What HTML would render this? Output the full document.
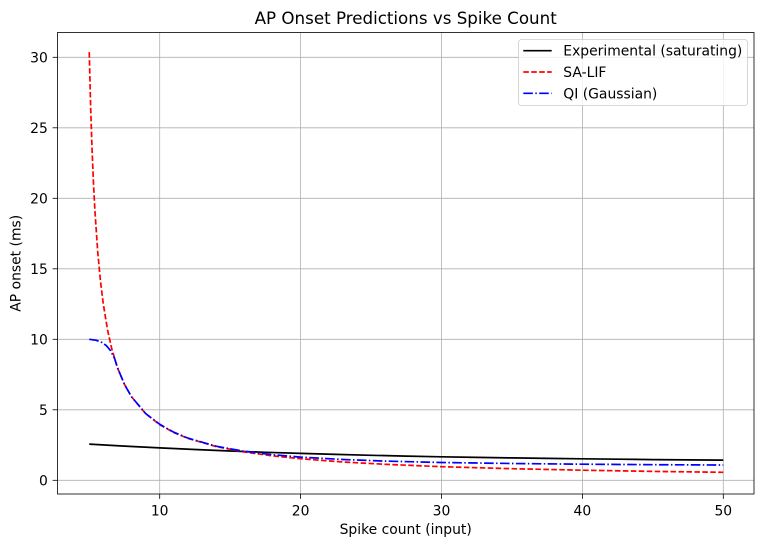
<!DOCTYPE html>
<html>
<head>
<meta charset="utf-8">
<style>
  html, body { margin: 0; padding: 0; background: #ffffff; }
  svg { display: block; }
  text { font-family: "DejaVu Sans", "Liberation Sans", sans-serif; fill: #000; }
</style>
</head>
<body>
<svg width="764" height="547" viewBox="0 0 764 547" xmlns="http://www.w3.org/2000/svg">
  <rect x="0" y="0" width="764" height="547" fill="#ffffff"/>

  <!-- grid -->
  <g stroke="#b0b0b0" stroke-width="0.8" fill="none">
    <line x1="159.7" y1="32.5" x2="159.7" y2="494"/>
    <line x1="300.6" y1="32.5" x2="300.6" y2="494"/>
    <line x1="441.5" y1="32.5" x2="441.5" y2="494"/>
    <line x1="582.4" y1="32.5" x2="582.4" y2="494"/>
    <line x1="723.3" y1="32.5" x2="723.3" y2="494"/>
    <line x1="57.5" y1="480.3" x2="754" y2="480.3"/>
    <line x1="57.5" y1="409.8" x2="754" y2="409.8"/>
    <line x1="57.5" y1="339.3" x2="754" y2="339.3"/>
    <line x1="57.5" y1="268.8" x2="754" y2="268.8"/>
    <line x1="57.5" y1="198.3" x2="754" y2="198.3"/>
    <line x1="57.5" y1="127.8" x2="754" y2="127.8"/>
    <line x1="57.5" y1="57.3" x2="754" y2="57.3"/>
  </g>

  <!-- data lines -->
  <g fill="none" stroke-width="1.7">
    <!-- Experimental (saturating) -->
    <polyline stroke="#000000" stroke-linejoin="round"
      points="89.25,444.1 124.5,446.1 159.7,447.9 194.9,449.5 230.15,451.0 265.4,452.3 300.6,453.4 335.8,454.4 371.05,455.3 406.3,456.1 441.5,456.8 476.7,457.4 511.95,457.9 547.2,458.4 582.4,458.8 617.6,459.2 652.85,459.6 688.1,459.9 723.3,460.1"/>
    <!-- SA-LIF -->
    <polyline stroke="#ff0000" stroke-dasharray="5.55,2.4"
      points="89.25,52.2 90.66,107.6 92.07,149.9 93.48,183.2 94.89,210.3 97.70,251.6 100.52,281.6 103.34,304.3 107.57,330.0 111.79,348.9 117.43,367.6 124.48,384.4 131.52,396.8 145.61,413.6 159.7,424.7 173.79,432.5 187.88,438.4 216.06,446.5 244.24,452.0 272.42,455.8 300.6,458.7 342.87,462.0 385.14,464.3 441.5,466.7 511.95,468.7 582.4,470.2 652.85,471.4 723.3,472.3"/>
    <!-- QI (Gaussian) -->
    <polyline stroke="#0000ff" stroke-dasharray="9.6,2.4,1.5,2.4"
      points="89.25,339.3 96.3,340.3 101.9,342.5 106.2,345.5 110.4,350.5 114.6,358.5 117.43,367.6 124.48,384.4 131.52,396.8 145.61,413.5 159.7,424.3 173.79,432.2 187.88,438.1 216.06,446.2 244.24,451.3 272.42,454.7 300.6,457.1 342.87,459.5 385.14,461.1 441.5,462.5 511.95,463.5 582.4,464.2 652.85,464.7 723.3,465.0"/>
  </g>

  <!-- axes frame -->
  <rect x="57.5" y="32.5" width="696.5" height="461.5" fill="none" stroke="#000" stroke-width="0.8"/>

  <!-- ticks -->
  <g stroke="#000" stroke-width="0.8">
    <line x1="159.7" y1="494" x2="159.7" y2="498.9"/>
    <line x1="300.6" y1="494" x2="300.6" y2="498.9"/>
    <line x1="441.5" y1="494" x2="441.5" y2="498.9"/>
    <line x1="582.4" y1="494" x2="582.4" y2="498.9"/>
    <line x1="723.3" y1="494" x2="723.3" y2="498.9"/>
    <line x1="52.6" y1="480.3" x2="57.5" y2="480.3"/>
    <line x1="52.6" y1="409.8" x2="57.5" y2="409.8"/>
    <line x1="52.6" y1="339.3" x2="57.5" y2="339.3"/>
    <line x1="52.6" y1="268.8" x2="57.5" y2="268.8"/>
    <line x1="52.6" y1="198.3" x2="57.5" y2="198.3"/>
    <line x1="52.6" y1="127.8" x2="57.5" y2="127.8"/>
    <line x1="52.6" y1="57.3" x2="57.5" y2="57.3"/>
  </g>

  <!-- x tick labels -->
  <g font-size="13.9" text-anchor="middle">
    <text x="159.7" y="515.5">10</text>
    <text x="300.6" y="515.5">20</text>
    <text x="441.5" y="515.5">30</text>
    <text x="582.4" y="515.5">40</text>
    <text x="723.3" y="515.5">50</text>
  </g>
  <!-- y tick labels -->
  <g font-size="13.9" text-anchor="end">
    <text x="47.8" y="485.3">0</text>
    <text x="47.8" y="414.8">5</text>
    <text x="47.8" y="344.3">10</text>
    <text x="47.8" y="273.8">15</text>
    <text x="47.8" y="203.3">20</text>
    <text x="47.8" y="132.8">25</text>
    <text x="47.8" y="62.3">30</text>
  </g>

  <!-- axis labels & title -->
  <text x="405.7" y="534" font-size="13.9" text-anchor="middle">Spike count (input)</text>
  <text x="0" y="0" font-size="13.9" text-anchor="middle" transform="translate(20.5,263.3) rotate(-90)">AP onset (ms)</text>
  <text x="405.7" y="24" font-size="16.7" text-anchor="middle">AP Onset Predictions vs Spike Count</text>

  <!-- legend -->
  <rect x="518.5" y="39.5" width="229" height="66" rx="3" ry="3" fill="#ffffff" fill-opacity="0.8" stroke="#cccccc" stroke-width="0.8"/>
  <line x1="523.3" y1="50.7" x2="551.7" y2="50.7" stroke="#000000" stroke-width="1.7"/>
  <line x1="523.3" y1="72" x2="551.7" y2="72" stroke="#ff0000" stroke-width="1.7" stroke-dasharray="5.55,2.4"/>
  <line x1="523.3" y1="93.3" x2="551.7" y2="93.3" stroke="#0000ff" stroke-width="1.7" stroke-dasharray="9.6,2.4,1.5,2.4"/>
  <g font-size="13.9">
    <text x="563.3" y="55.7">Experimental (saturating)</text>
    <text x="563.3" y="77">SA-LIF</text>
    <text x="563.3" y="98.3">QI (Gaussian)</text>
  </g>
</svg>
</body>
</html>
